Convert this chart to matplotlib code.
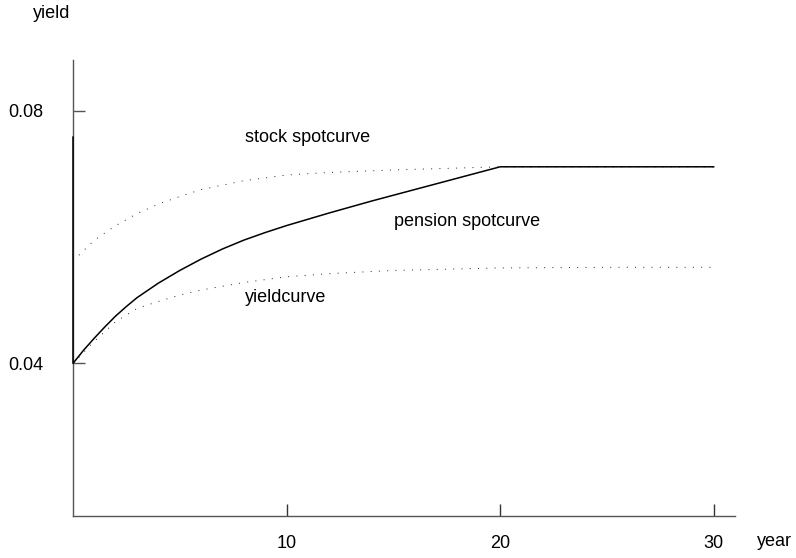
import matplotlib
matplotlib.use("Agg")
import matplotlib.pyplot as plt

plt.rcParams["font.family"] = ["Liberation Sans", "DejaVu Sans"]

# maturities (years) and yields
pension_t = [0, 0, 0.5, 1, 1.5, 2, 2.5, 3, 4, 5, 6, 7, 8, 9, 10, 12, 14, 16, 18, 20, 30]
pension_y = [0.0758, 0.0400, 0.0421, 0.0440, 0.0458, 0.0475, 0.0490, 0.0504,
             0.0527, 0.0547, 0.0565, 0.0581, 0.0595, 0.0607, 0.0618, 0.0638,
             0.0657, 0.0675, 0.0693, 0.0711, 0.0711]

stock_t = [0, 1, 2, 3, 4, 5, 6, 8, 10, 12, 15, 20, 30]
stock_y = [0.0562, 0.0595, 0.0618, 0.0637, 0.0652, 0.0664, 0.0675, 0.0689,
           0.0698, 0.0702, 0.0706, 0.0711, 0.0711]

yield_t = [0, 1, 2, 3, 4, 5, 6, 8, 10, 12, 15, 20, 25, 30]
yield_y = [0.0400, 0.0435, 0.0466, 0.0487, 0.0498, 0.0508, 0.0516, 0.0528,
           0.0537, 0.0542, 0.0547, 0.0551, 0.0552, 0.0552]

x_ticks = [10, 20, 30]
y_ticks = [0.04, 0.08]

fig = plt.figure(figsize=(7.96, 5.58), dpi=100)
ax = fig.add_axes([0.0917, 0.0758, 0.8317, 0.8167])

dots = (0, (1, 7.5))
ax.plot(stock_t, stock_y, color="#222222", lw=0.7, linestyle=dots)
ax.plot(yield_t, yield_y, color="#222222", lw=0.7, linestyle=dots)
ax.plot(pension_t, pension_y, color="black", lw=1.1, clip_on=False, zorder=5)

ax.set_xlim(0, 31)
ax.set_ylim(0.0159, 0.0880)

for side in ("top", "right"):
    ax.spines[side].set_visible(False)
for side in ("left", "bottom"):
    ax.spines[side].set_color("#555555")
    ax.spines[side].set_linewidth(1.0)

ax.set_xticks(x_ticks)
ax.set_xticklabels([str(v) for v in x_ticks])
ax.set_yticks(y_ticks)
ax.set_yticklabels([f"{v:.2f}" for v in y_ticks])
ax.tick_params(axis="x", direction="in", length=8.6, width=1, color="#333333",
               pad=14, labelsize=13)
ax.tick_params(axis="y", direction="in", length=8.6, width=1, color="#555555",
               pad=21, labelsize=13)

fig.text(33 / 796, 1 - 13 / 558, "yield", fontsize=13, ha="left", va="center")
fig.text(757 / 796, 1 - 542 / 558, "year", fontsize=13, ha="left", va="center")

ax.text(8.06, 0.0757, "stock spotcurve", fontsize=13, ha="left", va="center")
ax.text(15.03, 0.0624, "pension spotcurve", fontsize=13, ha="left", va="center")
ax.text(8.06, 0.0505, "yieldcurve", fontsize=13, ha="left", va="center")

fig.savefig("out.png", dpi=100)
